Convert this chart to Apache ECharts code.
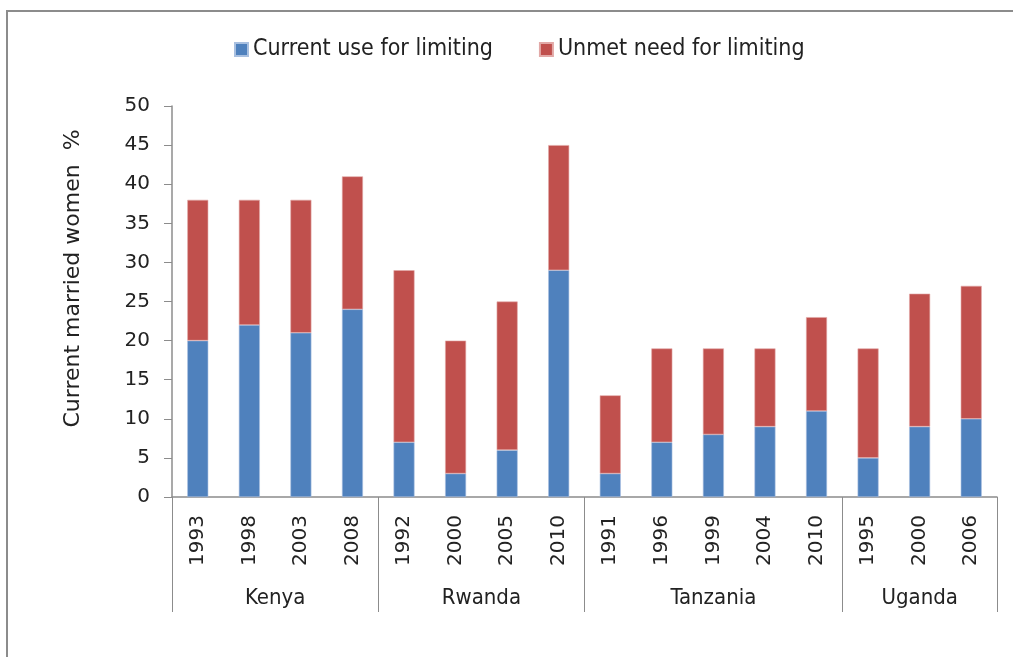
<!DOCTYPE html>
<html>
<head>
<meta charset="utf-8">
<script src="https://cdn.jsdelivr.net/npm/echarts@6/dist/echarts.min.js"></script>
<style>
  html, body { margin: 0; padding: 0; background: #fff; }
  #frame { position: absolute; left: 6px; top: 10px; width: 1100px; height: 700px; border-left: 2px solid #8c8c8c; border-top: 2px solid #8c8c8c; }
  #chart { position: absolute; left: 0; top: 0; width: 1013px; height: 657px; }
</style>
</head>
<body>
<div id="frame"></div>
<div id="chart"></div>
<script>
// 年份（x 轴第一层）
const years = ['1993', '1998', '2003', '2008', '1992', '2000', '2005', '2010', '1991', '1996', '1999', '2004', '2010', '1995', '2000', '2006']
// 国家分组（x 轴第二层）
const countries = ['Kenya', 'Rwanda', 'Tanzania', 'Uganda']
const groupSizes = [4, 4, 5, 3]
// 两个系列
const currentUse = [20, 22, 21, 24, 7, 3, 6, 29, 3, 7, 8, 9, 11, 5, 9, 10]
const unmetNeed = [18, 16, 17, 17, 22, 17, 19, 16, 10, 12, 11, 10, 12, 14, 17, 17]
const yTicks = [0, 5, 10, 15, 20, 25, 30, 35, 40, 45, 50]

// 分组边界和中心
const bounds = [0]
const centers = []
groupSizes.forEach((n, i) => {
    centers.push(bounds[i] + n / 2)
    bounds.push(bounds[i] + n)
})

const axisColor = '#8c8c8c'
const textColor = '#222'
const narrow = "'DejaVu Sans Condensed', 'DejaVu Sans', sans-serif"

var myChart = echarts.init(document.getElementById('chart'))
var option = {
    animation: false,
    legend: {
        top: 33,
        left: 229,
        itemWidth: 13,
        itemHeight: 13,
        itemGap: 46,
        icon: 'rect',
        textStyle: { fontFamily: narrow, fontSize: 23, color: textColor }
    },
    grid: { left: 172, right: 16, top: 106, bottom: 160 },
    xAxis: [
        {
            type: 'category',
            data: years,
            axisLine: { lineStyle: { color: axisColor, width: 1.5 } },
            axisTick: { interval: 0, length: 68, lineStyle: { color: axisColor } },
            axisLabel: { interval: 0, rotate: 90, margin: 18, fontFamily: 'DejaVu Sans', fontSize: 20, color: textColor }
        },
        {
            type: 'value',
            position: 'bottom',
            min: 0,
            max: years.length,
            splitLine: { show: false },
            axisLine: { show: false },
            axisTick: { show: true, customValues: bounds, length: 115, lineStyle: { color: axisColor } },
            axisLabel: {
                customValues: centers,
                margin: 90,
                fontFamily: narrow,
                fontSize: 22,
                color: textColor,
                formatter: v => countries[centers.indexOf(v)]
            }
        }
    ],
    yAxis: {
        type: 'value',
        min: yTicks[0],
        max: yTicks[yTicks.length - 1],
        interval: 5,
        name: 'Current married women  %',
        nameLocation: 'middle',
        nameGap: 88,
        nameTextStyle: { fontFamily: 'DejaVu Sans', fontSize: 22, color: textColor, padding: [0, 0, 0, 46] },
        splitLine: { show: false },
        axisLine: { show: true, lineStyle: { color: axisColor, width: 1.5 } },
        axisTick: { show: true, length: 8, lineStyle: { color: axisColor } },
        axisLabel: { margin: 22, fontFamily: 'DejaVu Sans', fontSize: 20, color: textColor }
    },
    series: [
        {
            name: 'Current use for limiting',
            type: 'bar',
            stack: 'total',
            barWidth: 21,
            data: currentUse,
            itemStyle: { color: '#4f81bd', borderColor: '#a9c0e0', borderWidth: 0.6 }
        },
        {
            name: 'Unmet need for limiting',
            type: 'bar',
            stack: 'total',
            barWidth: 21,
            data: unmetNeed,
            itemStyle: { color: '#c0504d', borderColor: '#e2a9a7', borderWidth: 0.6 }
        }
    ]
}
option && myChart.setOption(option)
</script>
</body>
</html>
